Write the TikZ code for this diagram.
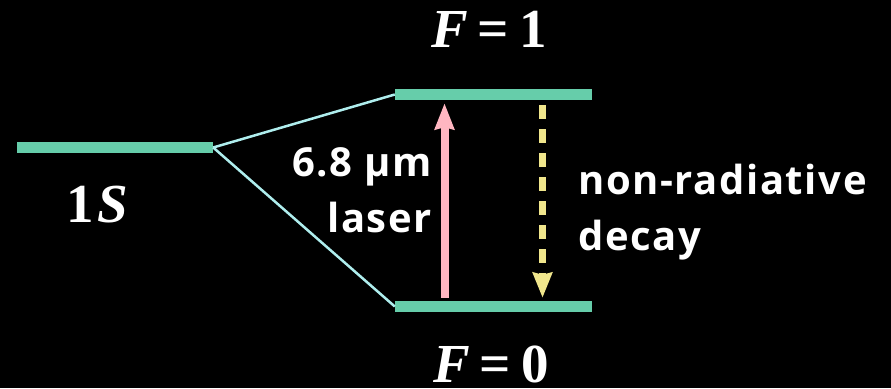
\documentclass[tikz,border=0pt]{standalone}
\usepackage{fontspec}
\usetikzlibrary{positioning,arrows.meta}
\newfontfamily\labelfont[LetterSpace=4]{Open Sans}
\newfontfamily\statefont{Liberation Serif}
\definecolor{levelgreen}{HTML}{66CDAA}
\definecolor{splitcyan}{HTML}{AFEEEE}
\definecolor{laserpink}{HTML}{FFB6C1}
\definecolor{decayyellow}{HTML}{F0E68C}
\newcommand{\bisym}[1]{\textit{#1}}
\newcommand{\eqsign}{\kern10pt=\kern10pt}
\tikzset{
  level/.style = {rectangle, fill=levelgreen, minimum width=197pt, minimum height=11pt, inner sep=0},
  split/.style = {splitcyan, line width=2.5pt},
  pump/.style  = {laserpink, line width=8pt, -{Stealth[length=26pt, width=19pt, inset=2pt]}, shorten <=3pt, shorten >=3pt},
  relax/.style = {decayyellow, line width=7pt, dash pattern=on 14pt off 10pt, -{Stealth[length=25pt, width=19pt, inset=2pt]}, shorten <=5pt, shorten >=3pt},
  qnum/.style  = {text=white, inner sep=0, anchor=base, font=\statefont\bfseries\fontsize{55}{60}\selectfont},
  note/.style  = {text=white, inner sep=0, font=\labelfont\bfseries\fontsize{40}{56}\selectfont}
}

\begin{document}
\begin{tikzpicture}[x=1pt, y=-1pt]
  \path[use as bounding box, fill=black] (0,0) rectangle (891,388);
  % livelli: 1S e struttura iperfine
  \node[level, minimum width=196pt] (S) at (115,147.5) {};
  \node[level] (F1) at (493.5,94.5) {};
  \node[level] (F0) at (493.5,306.5) {};
  \draw[split] (S.east) -- (F1.west);
  \draw[split] (S.east) -- (F0.west);
  % transizioni
  \draw[pump]  ([xshift=-49pt]F0.north) -- ([xshift=-49pt]F1.south);
  \draw[relax] ([xshift=49pt]F1.south) -- ([xshift=49pt]F0.north);
  % etichette (base = ultima riga)
  \node[qnum] (tF1) at (489,47)  {\bisym{F}\eqsign 1};
  \node[qnum] (tF0) at (491,382) {\bisym{F}\eqsign 0};
  \node[qnum] (tS)  at (97.5,222) {1\kern3pt\bisym{S}};
  \node[note, align=right, anchor=base east] (tlas) at (432,232) {6.8 µm\\laser};
  \node[note, align=left, anchor=base west] (tdec) at (578,250) {non-radiative\\decay};
\end{tikzpicture}
\end{document}
